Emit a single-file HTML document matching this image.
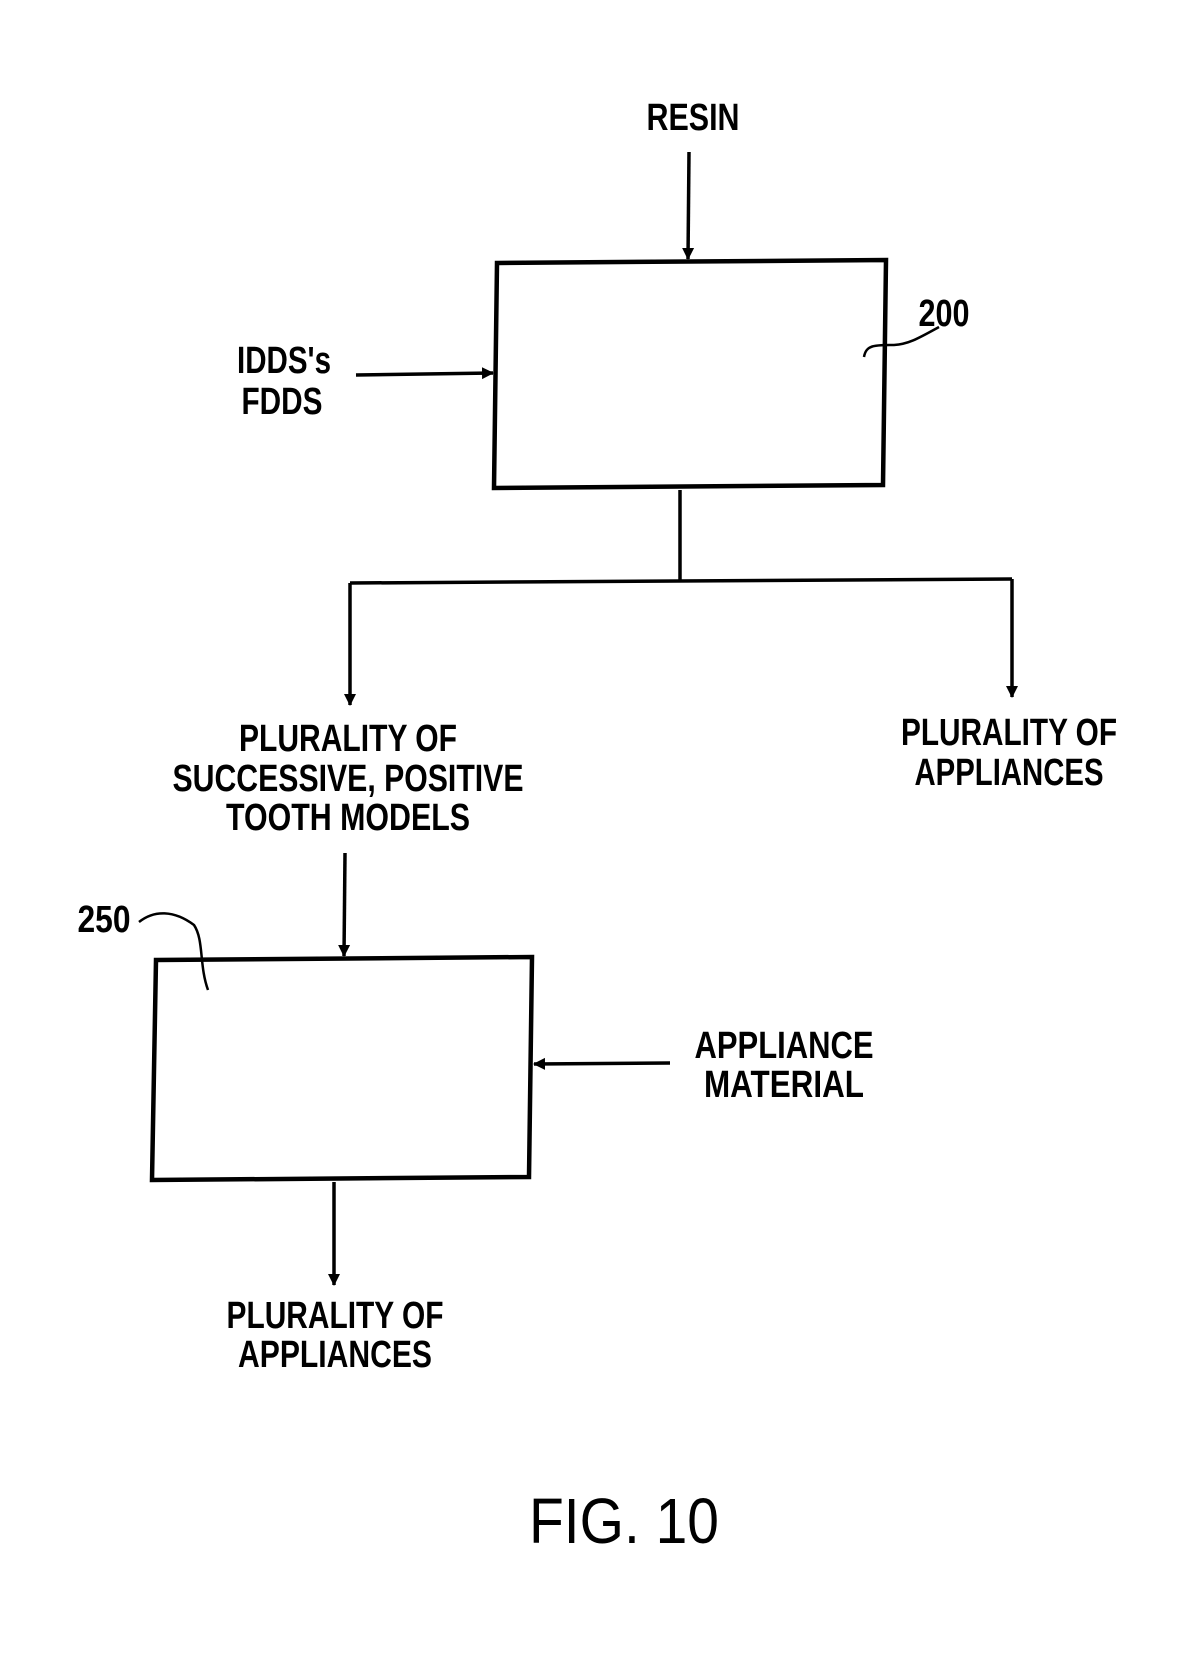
<!DOCTYPE html>
<html><head><meta charset="utf-8"><style>
html,body{margin:0;padding:0;background:#fff;}
svg{display:block;}
text{font-family:"Liberation Sans",sans-serif;font-weight:bold;fill:#000;}
</style></head><body>
<svg width="1181" height="1654" viewBox="0 0 1181 1654" xmlns="http://www.w3.org/2000/svg">
<defs>
<marker id="a" markerWidth="12" markerHeight="14" refX="11" refY="7" orient="auto" markerUnits="userSpaceOnUse">
<path d="M0,1 L12,7 L0,13 Z" fill="#000"/>
</marker>
</defs>
<g transform="translate(-6,0)">
<g stroke="#000" stroke-width="4.5" fill="none">
<path d="M503,263 L892,260 L889,485 L500,488 Z"/>
<path d="M162,960 L538,957 L535,1177 L158,1180 Z"/>
</g>
<g stroke="#000" stroke-width="3.5" fill="none">
<line x1="695" y1="152" x2="694" y2="259" marker-end="url(#a)"/>
<line x1="362" y1="375" x2="499" y2="373" marker-end="url(#a)"/>
<line x1="686" y1="490" x2="686" y2="581"/>
<line x1="356" y1="583" x2="1018" y2="579"/>
<line x1="356" y1="583" x2="356" y2="705" marker-end="url(#a)"/>
<line x1="1018" y1="579" x2="1018" y2="697" marker-end="url(#a)"/>
<line x1="351" y1="853" x2="350" y2="956" marker-end="url(#a)"/>
<line x1="676" y1="1063" x2="540" y2="1064" marker-end="url(#a)"/>
<line x1="340" y1="1182" x2="340" y2="1285" marker-end="url(#a)"/>
<path d="M870,357 C872,345 880,345 900,345 C915,344 925,338 945,327" stroke-width="2.5"/>
<path d="M145,922 C160,910 180,910 200,925 C210,940 205,965 214,990" stroke-width="2.5"/>
</g>
<g font-size="38">
<text x="699" y="130" text-anchor="middle" textLength="93" lengthAdjust="spacingAndGlyphs">RESIN</text>
<text x="290" y="373" text-anchor="middle" textLength="94" lengthAdjust="spacingAndGlyphs">IDDS's</text>
<text x="288" y="414" text-anchor="middle" textLength="81" lengthAdjust="spacingAndGlyphs">FDDS</text>
<text x="950" y="326" text-anchor="middle" textLength="51" lengthAdjust="spacingAndGlyphs">200</text>
<text x="110" y="932" text-anchor="middle" textLength="53" lengthAdjust="spacingAndGlyphs">250</text>
<text x="354" y="751" text-anchor="middle" textLength="218" lengthAdjust="spacingAndGlyphs">PLURALITY OF</text>
<text x="354" y="791" text-anchor="middle" textLength="351" lengthAdjust="spacingAndGlyphs">SUCCESSIVE, POSITIVE</text>
<text x="354" y="830" text-anchor="middle" textLength="244" lengthAdjust="spacingAndGlyphs">TOOTH MODELS</text>
<text x="1015" y="745" text-anchor="middle" textLength="216" lengthAdjust="spacingAndGlyphs">PLURALITY OF</text>
<text x="1015" y="785" text-anchor="middle" textLength="189" lengthAdjust="spacingAndGlyphs">APPLIANCES</text>
<text x="790" y="1058" text-anchor="middle" textLength="179" lengthAdjust="spacingAndGlyphs">APPLIANCE</text>
<text x="790" y="1097" text-anchor="middle" textLength="160" lengthAdjust="spacingAndGlyphs">MATERIAL</text>
<text x="341" y="1328" text-anchor="middle" textLength="217" lengthAdjust="spacingAndGlyphs">PLURALITY OF</text>
<text x="341" y="1367" text-anchor="middle" textLength="194" lengthAdjust="spacingAndGlyphs">APPLIANCES</text>
</g>
<text x="630" y="1543" text-anchor="middle" font-size="64" style="font-weight:normal" textLength="190" lengthAdjust="spacingAndGlyphs">FIG. 10</text>
</g>
</svg>
</body></html>
